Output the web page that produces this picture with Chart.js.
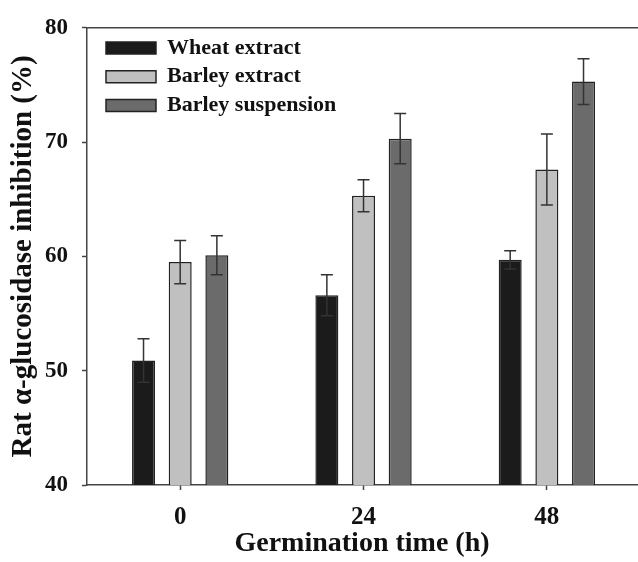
<!DOCTYPE html>
<html>
<head>
<meta charset="utf-8">
<script src="https://cdn.jsdelivr.net/npm/chart.js@4.4.1/dist/chart.umd.min.js"></script>
<style>
html,body{margin:0;padding:0;background:#fff;}
canvas{display:block;}
</style>
</head>
<body>
<canvas id="c" width="638" height="562"></canvas>
<script>
// ---- data ----
const categories = [0, 24, 48];               // germination time (h)
const seriesNames = ['Wheat extract', 'Barley extract', 'Barley suspension'];
const wheatExtract = [50.9, 56.6, 59.7];
const wheatExtractErr = [1.9, 1.8, 0.8];
const barleyExtract = [59.5, 65.3, 67.6];
const barleyExtractErr = [1.9, 1.4, 3.1];
const barleySuspension = [60.1, 70.3, 75.3];
const barleySuspensionErr = [1.7, 2.2, 2.0];
const yTickValues = [40, 50, 60, 70, 80];

const FONT = "'Liberation Serif', 'Times New Roman', serif";
const AXIS = '#444';
const TEXT = '#111';

const errorBars = {
  id: 'errorBars',
  afterDatasetsDraw(chart) {
    const ctx = chart.ctx;
    const yScale = chart.scales.y;
    chart.data.datasets.forEach((ds, di) => {
      const meta = chart.getDatasetMeta(di);
      if (meta.hidden) return;
      meta.data.forEach((bar, i) => {
        const v = ds.data[i], e = ds.errors[i];
        const yt = yScale.getPixelForValue(v + e);
        const yb = yScale.getPixelForValue(v - e);
        const x = bar.x, cap = 6;
        ctx.save();
        ctx.strokeStyle = '#333';
        ctx.lineWidth = 1.5;
        ctx.beginPath();
        ctx.moveTo(x, yt); ctx.lineTo(x, yb);
        ctx.moveTo(x - cap, yt); ctx.lineTo(x + cap, yt);
        ctx.moveTo(x - cap, yb); ctx.lineTo(x + cap, yb);
        ctx.stroke();
        ctx.restore();
      });
    });
  }
};

// legend sits inside the chart area, offset from its top-left corner
const legendShift = {
  id: 'legendShift',
  afterLayout(chart) {
    const lg = chart.legend;
    if (!lg) return;
    const dx = 12.3, dy = chart.chartArea.top + 2.5;
    lg.left += dx; lg.right += dx;
    lg.top += dy; lg.bottom += dy;
  }
};

const xMin = -12.2, xMax = 59.8;

new Chart(document.getElementById('c'), {
  type: 'bar',
  data: {
    labels: categories,
    datasets: [
      { label: seriesNames[0], data: wheatExtract, errors: wheatExtractErr,
        backgroundColor: '#1b1b1b', borderColor: '#222', borderWidth: 1.5 },
      { label: seriesNames[1], data: barleyExtract, errors: barleyExtractErr,
        backgroundColor: '#c0c0c0', borderColor: '#222', borderWidth: 1.5 },
      { label: seriesNames[2], data: barleySuspension, errors: barleySuspensionErr,
        backgroundColor: '#6b6b6b', borderColor: '#222', borderWidth: 1.5 }
    ]
  },
  options: {
    responsive: false,
    animation: false,
    categoryPercentage: 0.6,
    barPercentage: 0.627,
    layout: { padding: { top: 24, right: 1, bottom: 0, left: 0 } },
    plugins: {
      tooltip: { enabled: false },
      legend: {
        position: 'chartArea',
        align: 'start',
        labels: {
          boxWidth: 50, boxHeight: 12, padding: 6.7,
          color: TEXT,
          font: { family: FONT, size: 22, weight: 'bold' }
        }
      }
    },
    scales: {
      x: {
        type: 'linear',
        position: 'bottom',
        offset: false,
        min: xMin, max: xMax,
        afterBuildTicks: s => { s.ticks = categories.map(v => ({ value: v })); },
        afterFit: s => { s.height = 77; },
        ticks: {
          color: TEXT, padding: 13,
          font: { family: FONT, size: 25, weight: 'bold' },
          callback: v => String(v)
        },
        grid: { display: true, offset: false, drawOnChartArea: false, tickLength: 5, tickColor: AXIS, tickWidth: 1.5 },
        border: { display: true, color: AXIS, width: 1.5 },
        title: {
          display: true, text: 'Germination time (h)', color: TEXT,
          font: { family: FONT, size: 28, weight: 'bold' },
          padding: { top: 0, bottom: 1.5 }
        }
      },
      x2: {
        type: 'linear',
        position: 'top',
        offset: false,
        min: xMin, max: xMax,
        afterFit: s => { s.height = 0; },
        ticks: { display: false },
        grid: { display: false, drawTicks: false },
        border: { display: true, color: AXIS, width: 1.5 }
      },
      y: {
        min: yTickValues[0], max: yTickValues[yTickValues.length - 1],
        afterBuildTicks: s => { s.ticks = yTickValues.map(v => ({ value: v })); },
        afterFit: s => { s.width = 87; },
        ticks: {
          color: TEXT, padding: 14,
          font: { family: FONT, size: 23, weight: 'bold' }
        },
        grid: { display: true, drawOnChartArea: false, tickLength: 5, tickColor: AXIS, tickWidth: 1.5 },
        border: { display: true, color: AXIS, width: 1.5 },
        title: {
          display: true, text: 'Rat α-glucosidase inhibition (%)', color: TEXT,
          font: { family: FONT, size: 29, weight: 'bold' },
          padding: { top: 5.8, bottom: 0 }
        }
      }
    }
  },
  plugins: [errorBars, legendShift]
});
</script>
</body>
</html>
